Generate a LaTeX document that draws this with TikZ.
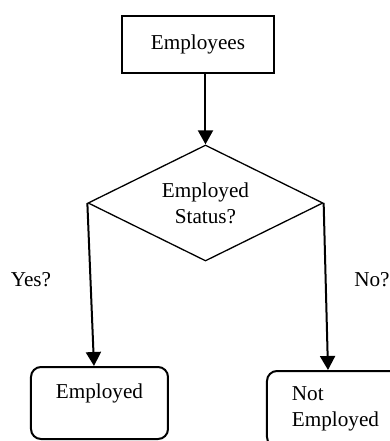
\documentclass[tikz,border=0pt]{standalone}
\usepackage{fontspec}
\setmainfont{Liberation Serif}
\usetikzlibrary{shapes.geometric,arrows.meta}
\begin{document}
\begin{tikzpicture}[x=0.5pt, y=-0.5pt, font=\fontsize{10.6}{12.8}\selectfont]
      \tikzset{block/.style={draw, line width=1pt, rectangle, minimum width=76pt, minimum height=28.5pt},
               decide/.style={draw, line width=0.65pt, diamond, aspect=2, minimum width=117.5pt, minimum height=58pt, align=center, inner sep=0pt},
               outcome/.style={draw, line width=1pt, rectangle, rounded corners=5pt, minimum width=68.5pt},
               flow/.style={line width=1pt, -{Triangle[width=7.5pt, length=7pt]}}}
      \clip (0,0) rectangle (390,441);
%% Nodes
      	\node[block] (emp) at (198,44.5) {Employees};
      	\node[decide] (dec) at (205.5,203) {Employed\\[0.4pt]Status?};
    	\node[outcome, minimum height=36pt, text depth=12pt] (employed) at (99.5,403) {Employed};
  	    \node[outcome, minimum height=38pt, align=left] (notemp) at (335.5,409) {Not\\Employed};
  	    \node (yes) at (31,280) {Yes?};
  	    \node (no) at (372,280) {No?};
%Arrows
		\path[flow] (emp.south -| dec.north) edge (dec.north);
		\path[flow] (dec.west) edge ([xshift=-2.75pt]employed.north);
		\path[flow] (dec.east) edge ([xshift=-3.75pt]notemp.north);
	\end{tikzpicture}
\end{document}
